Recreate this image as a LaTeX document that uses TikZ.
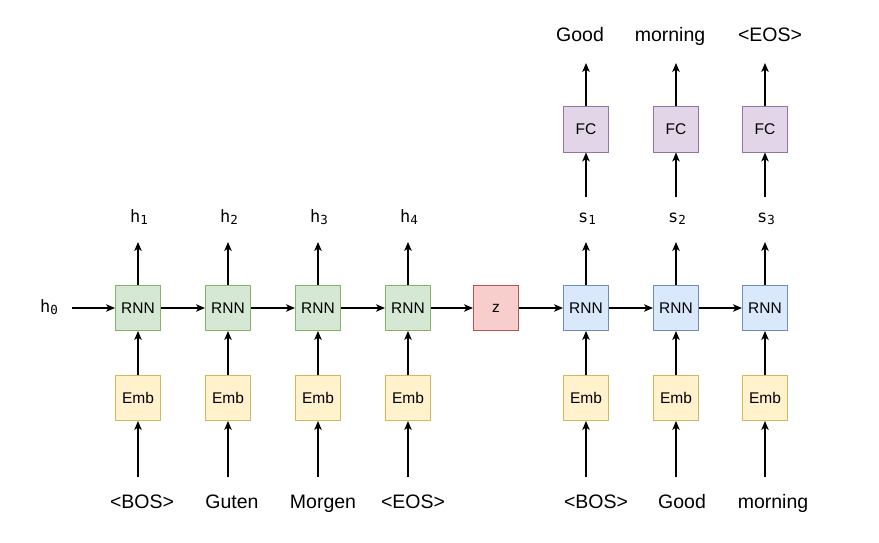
\documentclass[tikz,border=0pt]{standalone}
\usepackage{fontspec}
\setmainfont{Liberation Sans}
\newfontfamily\hmono{DejaVu Sans Mono}
\usetikzlibrary{arrows.meta}
\definecolor{encfill}{HTML}{D5E8D4}
\definecolor{encdraw}{HTML}{82B366}
\definecolor{embfill}{HTML}{FFF2CC}
\definecolor{embdraw}{HTML}{D6B656}
\definecolor{zfill}{HTML}{F8CECC}
\definecolor{zdraw}{HTML}{B85450}
\definecolor{decfill}{HTML}{DAE8FC}
\definecolor{decdraw}{HTML}{6C8EBF}
\definecolor{fcfill}{HTML}{E1D5E7}
\definecolor{fcdraw}{HTML}{9673A6}
\newcommand{\hsub}[2]{{\hmono\fontsize{17}{19}\selectfont #1\raisebox{-0.3ex}{\fontsize{12.5}{13}\selectfont #2}}}
\begin{document}
\begin{tikzpicture}[x=1pt,y=-1pt,
  box/.style={draw, line width=1pt, minimum width=45pt, minimum height=45pt, inner sep=0pt, font=\fontsize{15.5}{17}\selectfont},
  rnnE/.style={box, fill=encfill, draw=encdraw},
  rnnD/.style={box, fill=decfill, draw=decdraw},
  embbox/.style={box, fill=embfill, draw=embdraw},
  zbox/.style={box, fill=zfill, draw=zdraw},
  fcbox/.style={box, fill=fcfill, draw=fcdraw},
  word/.style={font=\fontsize{19.5}{22}\selectfont, inner sep=0pt, anchor=base},
  hlab/.style={inner sep=0pt, anchor=base},
  arr/.style={-{Stealth[length=9pt,width=7.5pt,inset=2.5pt]}, line width=1.1pt, draw=black}
]
\useasboundingbox (0,0) rectangle (879,543);

% encoder
\foreach \i/\x/\w/\wx in {1/138/{<BOS>}/142, 2/228/{Guten}/232, 3/318/{Morgen}/323, 4/408/{<EOS>}/413}{
  \node[rnnE] (r\i) at (\x,308) {RNN};
  \node[embbox] (e\i) at (\x,398) {Emb};
  \coordinate (b\i) at (\x,477);
  \node[word] (w\i) at (\wx,508) {\w};
  \coordinate (t\i) at (\x,242);
  \node[hlab] (h\i) at (\x+1,222) {\hsub{h}{\i}};
  \draw[arr] (b\i) -- (e\i);
  \draw[arr] (e\i) -- (r\i);
  \draw[arr] (r\i) -- (t\i);
}
\node[hlab] (h0) at (49,312) {\hsub{h}{0}};
\coordinate (h0e) at (72,308);
\draw[arr] (h0e) -- (r1);

\node[zbox] (z) at (496,308) {z};

% decoder
\foreach \i/\x/\w/\wx/\o/\ox in {1/586/{<BOS>}/596/{Good}/580, 2/676/{Good}/682/{morning}/670, 3/765/{morning}/773/{<EOS>}/770}{
  \node[rnnD] (d\i) at (\x,308) {RNN};
  \node[embbox] (de\i) at (\x,398) {Emb};
  \coordinate (db\i) at (\x,477);
  \node[word] (dw\i) at (\wx,508) {\w};
  \coordinate (dt\i) at (\x,242);
  \node[hlab] (s\i) at (\x+1,222) {\hsub{s}{\i}};
  \coordinate (fs\i) at (\x,197);
  \node[fcbox] (f\i) at (\x,129.5) {FC};
  \coordinate (fo\i) at (\x,63);
  \node[word] (o\i) at (\ox,42) {\o};
  \draw[arr] (db\i) -- (de\i);
  \draw[arr] (de\i) -- (d\i);
  \draw[arr] (d\i) -- (dt\i);
  \draw[arr] (fs\i) -- (f\i);
  \draw[arr] (f\i) -- (fo\i);
}

\draw[arr] (r1) -- (r2);
\draw[arr] (r2) -- (r3);
\draw[arr] (r3) -- (r4);
\draw[arr] (r4) -- (z);
\draw[arr] (z) -- (d1);
\draw[arr] (d1) -- (d2);
\draw[arr] (d2) -- (d3);
\end{tikzpicture}
\end{document}
